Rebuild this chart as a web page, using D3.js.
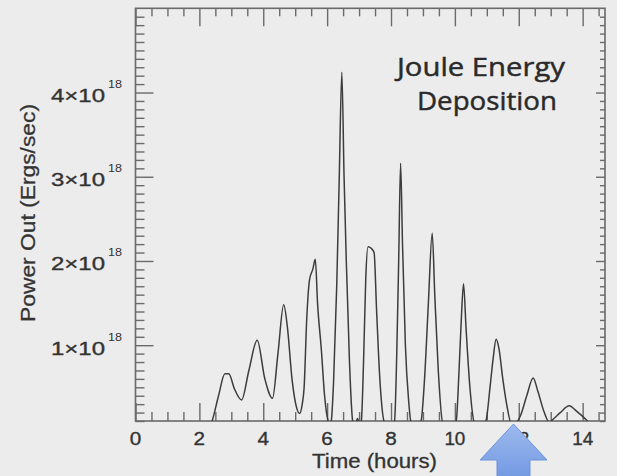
<!DOCTYPE html>
<html>
<head>
<meta charset="utf-8">
<script src="https://cdn.jsdelivr.net/npm/d3@7/dist/d3.min.js"></script>
<style>
  html, body { margin: 0; padding: 0; background: #ececec; }
  svg { display: block; }
</style>
</head>
<body>
<svg id="chart" width="617" height="476"></svg>
<script>
// Joule heating power output versus time (units of 1e18 erg/s)
const timeHours = [
  0.00, 2.30, 2.40, 2.60, 2.80, 2.92, 3.10, 3.32, 3.55, 3.81, 4.05, 4.29,
  4.46, 4.64, 4.76, 4.90, 5.05, 5.14, 5.22, 5.28, 5.36, 5.45, 5.55, 5.63,
  5.70, 5.82, 5.92, 5.98, 6.03, 6.08, 6.13, 6.20, 6.30, 6.38, 6.46, 6.53,
  6.60, 6.70, 6.80, 6.87, 6.95, 7.02, 7.07, 7.14, 7.21, 7.28, 7.38, 7.47,
  7.55, 7.65, 7.80, 8.00, 8.11, 8.18, 8.24, 8.30, 8.36, 8.45, 8.55, 8.63,
  8.80, 8.94, 9.05, 9.17, 9.29, 9.37, 9.48, 9.62, 9.85, 10.04, 10.13, 10.20,
  10.27, 10.35, 10.47, 10.61, 10.80, 10.97, 11.10, 11.20, 11.29, 11.38, 11.50, 11.63,
  11.76, 11.91, 12.05, 12.25, 12.45, 12.60, 12.80, 12.95, 13.10, 13.30, 13.58, 13.80,
  14.10, 14.30, 14.70
];
const powerE18 = [
  0.00, 0.00, 0.10, 0.40, 0.66, 0.66, 0.48, 0.35, 0.70, 1.06, 0.60, 0.37,
  0.90, 1.48, 1.20, 0.60, 0.25, 0.19, 0.30, 0.50, 1.30, 1.78, 1.90, 2.02,
  1.50, 0.94, 0.40, 0.20, 0.10, 0.04, 0.10, 0.55, 1.70, 3.00, 4.24, 3.00,
  2.00, 0.80, 0.10, 0.04, 0.13, 0.06, 0.10, 0.80, 1.80, 2.17, 2.15, 2.10,
  1.40, 0.60, 0.08, 0.04, 0.10, 0.90, 2.00, 3.16, 2.20, 1.00, 0.35, 0.08,
  0.04, 0.10, 0.60, 1.50, 2.33, 1.60, 0.70, 0.08, 0.04, 0.10, 0.70, 1.30,
  1.73, 1.20, 0.50, 0.08, 0.04, 0.10, 0.50, 0.85, 1.07, 0.96, 0.60, 0.28,
  0.08, 0.08, 0.16, 0.40, 0.61, 0.45, 0.20, 0.09, 0.13, 0.20, 0.28, 0.22,
  0.12, 0.05, 0.04
];

const xMajorTicks = [0, 2, 4, 6, 8, 10, 12, 14];
const xTickLabels = ["0", "2", "4", "6", "8", "10", "12", "14"];
const yMajorTicks = [1, 2, 3, 4];
const yTickMantissas = ["1×10", "2×10", "3×10", "4×10"];
const yTickExponent = "18";

const svg = d3.select("#chart");
const W = 617, H = 476;
const plot = { left: 135.5, right: 605, top: 8.3, bottom: 421 };

svg.append("rect").attr("width", W).attr("height", H).attr("fill", "#ececec");

const x = d3.scaleLinear().domain([0, 14.7]).range([plot.left, plot.right]);
const y = d3.scaleLinear().domain([0.1, 5.0]).range([plot.bottom, plot.top]);

const xMinor = d3.range(0, 14.71, 0.5).filter(v => Math.abs(v % 2) > 1e-6);
const yMinor = d3.range(1, 50).map(i => i / 10).filter(v => Math.abs(v - Math.round(v)) > 1e-6);

const axisColor = "#6a6a6a";
function styleAxis(g) {
  g.select(".domain").remove();
  g.selectAll(".tick line").attr("stroke", axisColor).attr("stroke-width", 1.4);
  g.selectAll(".tick text").remove();
}

// Inward-pointing ticks on all four sides
const ax = svg.append("g");
ax.append("g").attr("transform", `translate(0,${plot.bottom})`)
  .call(d3.axisBottom(x).tickValues(xMajorTicks).tickSizeInner(-18).tickSizeOuter(0)).call(styleAxis);
ax.append("g").attr("transform", `translate(0,${plot.bottom})`)
  .call(d3.axisBottom(x).tickValues(xMinor).tickSizeInner(-9).tickSizeOuter(0)).call(styleAxis);
ax.append("g").attr("transform", `translate(0,${plot.top})`)
  .call(d3.axisTop(x).tickValues(xMajorTicks).tickSizeInner(-18).tickSizeOuter(0)).call(styleAxis);
ax.append("g").attr("transform", `translate(0,${plot.top})`)
  .call(d3.axisTop(x).tickValues(xMinor).tickSizeInner(-8).tickSizeOuter(0)).call(styleAxis);
ax.append("g").attr("transform", `translate(${plot.left},0)`)
  .call(d3.axisLeft(y).tickValues(yMajorTicks).tickSizeInner(-18).tickSizeOuter(0)).call(styleAxis);
ax.append("g").attr("transform", `translate(${plot.left},0)`)
  .call(d3.axisLeft(y).tickValues(yMinor).tickSizeInner(-9).tickSizeOuter(0)).call(styleAxis);
ax.append("g").attr("transform", `translate(${plot.right},0)`)
  .call(d3.axisRight(y).tickValues(yMajorTicks).tickSizeInner(-9).tickSizeOuter(0)).call(styleAxis);
ax.append("g").attr("transform", `translate(${plot.right},0)`)
  .call(d3.axisRight(y).tickValues(yMinor).tickSizeInner(-5).tickSizeOuter(0)).call(styleAxis);

// Plot frame
svg.append("rect")
  .attr("x", plot.left).attr("y", plot.top)
  .attr("width", plot.right - plot.left).attr("height", plot.bottom - plot.top)
  .attr("fill", "none").attr("stroke", axisColor).attr("stroke-width", 1.6);

// Data curve, clipped to the plot box
svg.append("clipPath").attr("id", "plotClip")
  .append("rect")
  .attr("x", plot.left).attr("y", plot.top)
  .attr("width", plot.right - plot.left).attr("height", plot.bottom - plot.top);

const series = timeHours.map((t, i) => ({ t, p: powerE18[i] }));
const line = d3.line().x(d => x(d.t)).y(d => y(d.p)).curve(d3.curveMonotoneX);
svg.append("path")
  .datum(series)
  .attr("clip-path", "url(#plotClip)")
  .attr("fill", "none")
  .attr("stroke", "#3c3c3c")
  .attr("stroke-width", 1.5)
  .attr("stroke-linejoin", "round")
  .attr("d", line);

const labelFont = "'Liberation Sans', Arial, Helvetica, sans-serif";
const textColor = "#333333";

// X tick labels
svg.append("g").selectAll("text")
  .data(xMajorTicks)
  .join("text")
  .attr("x", d => x(d))
  .attr("y", 445)
  .attr("text-anchor", "middle")
  .attr("font-family", labelFont)
  .attr("font-size", 19)
  .attr("fill", textColor)
  .attr("stroke", textColor)
  .attr("stroke-width", 0.35)
  .attr("textLength", (d, i) => xTickLabels[i].length > 1 ? 21 : 11.5)
  .attr("lengthAdjust", "spacingAndGlyphs")
  .text((d, i) => xTickLabels[i]);

// Y tick labels with superscript exponent
const yLab = svg.append("g").selectAll("g")
  .data(yMajorTicks)
  .join("g");
yLab.append("text")
  .attr("x", 105)
  .attr("y", d => y(d) + 9.5)
  .attr("text-anchor", "end")
  .attr("font-family", labelFont)
  .attr("font-size", 18)
  .attr("fill", textColor)
  .attr("stroke", textColor)
  .attr("stroke-width", 0.35)
  .attr("textLength", 54)
  .attr("lengthAdjust", "spacingAndGlyphs")
  .text((d, i) => yTickMantissas[i]);
yLab.append("text")
  .attr("x", 108)
  .attr("y", d => y(d) - 4.5)
  .attr("font-family", labelFont)
  .attr("font-size", 11)
  .attr("fill", textColor)
  .attr("textLength", 14)
  .attr("lengthAdjust", "spacingAndGlyphs")
  .text(yTickExponent);

// Axis titles
svg.append("text")
  .attr("x", 374.5).attr("y", 468)
  .attr("text-anchor", "middle")
  .attr("font-family", labelFont)
  .attr("font-size", 20)
  .attr("fill", textColor)
  .attr("stroke", textColor)
  .attr("stroke-width", 0.3)
  .attr("textLength", 125)
  .attr("lengthAdjust", "spacingAndGlyphs")
  .text("Time (hours)");

svg.append("text")
  .attr("transform", "translate(35,213) rotate(-90)")
  .attr("text-anchor", "middle")
  .attr("font-family", labelFont)
  .attr("font-size", 21)
  .attr("fill", textColor)
  .attr("stroke", textColor)
  .attr("stroke-width", 0.3)
  .attr("textLength", 218)
  .attr("lengthAdjust", "spacingAndGlyphs")
  .text("Power Out (Ergs/sec)");

// Annotation
const noteFont = "'Open Sans', 'Noto Sans', sans-serif";
const noteColor = "#2a2a2a";
svg.append("text")
  .attr("x", 397).attr("y", 75.5)
  .attr("font-family", noteFont)
  .attr("font-size", 26)
  .attr("fill", noteColor)
  .attr("stroke", noteColor)
  .attr("stroke-width", 0.45)
  .attr("textLength", 168)
  .attr("lengthAdjust", "spacingAndGlyphs")
  .text("Joule Energy");
svg.append("text")
  .attr("x", 417).attr("y", 110)
  .attr("font-family", noteFont)
  .attr("font-size", 26)
  .attr("fill", noteColor)
  .attr("stroke", noteColor)
  .attr("stroke-width", 0.45)
  .attr("textLength", 140)
  .attr("lengthAdjust", "spacingAndGlyphs")
  .text("Deposition");

// Blue block arrow pointing up at the time axis
const defs = svg.append("defs");
const grad = defs.append("linearGradient").attr("id", "arrowFill")
  .attr("x1", 0).attr("y1", 0).attr("x2", 0).attr("y2", 1);
grad.append("stop").attr("offset", "0%").attr("stop-color", "#9dbaf0");
grad.append("stop").attr("offset", "100%").attr("stop-color", "#7198e0");

const arrowPts = [
  [513.5, 424], [547, 460], [530, 460], [530, 480],
  [497, 480], [497, 460], [480, 460]
];
svg.append("path")
  .attr("d", d3.line()(arrowPts) + "Z")
  .attr("fill", "url(#arrowFill)")
  .attr("stroke", "#6d93d8")
  .attr("stroke-width", 1)
  .attr("stroke-linejoin", "round");
</script>
</body>
</html>
